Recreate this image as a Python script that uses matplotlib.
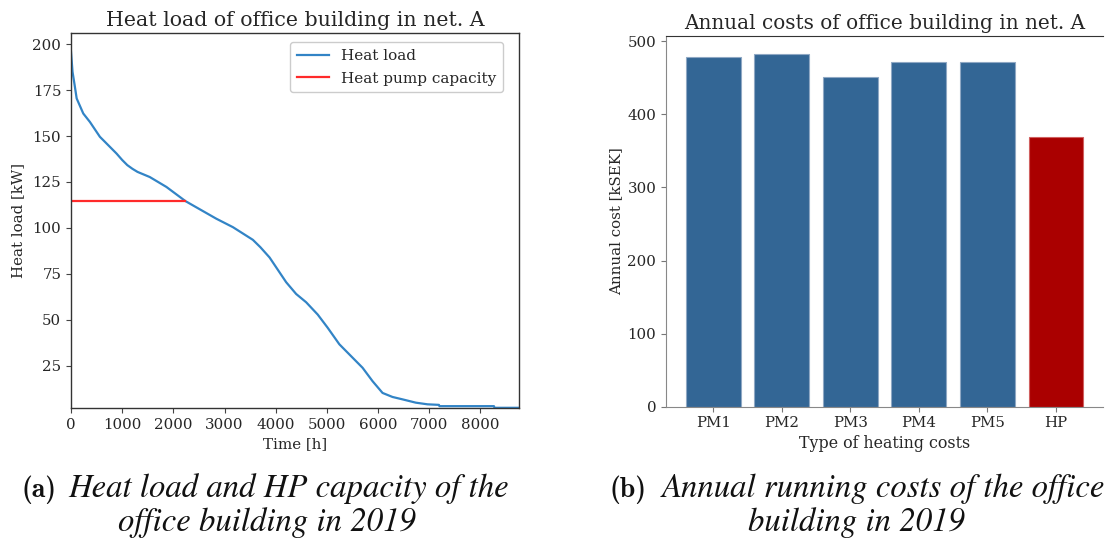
import matplotlib
matplotlib.use("Agg")
import matplotlib.pyplot as plt

# ---- data ----
hours = [0, 30, 70, 111, 240, 370, 565, 630, 890, 1000, 1100, 1200, 1300, 1540, 1865, 2236,
         2840, 3164, 3554, 3700, 3880, 4205, 4400, 4595, 4821, 5016, 5244, 5439, 5698,
         5893, 6088, 6283, 6478, 6738, 6965, 7190, 7200, 8265, 8275, 8760]
heat_load = [196, 185, 178, 170.5, 162.3, 157.7, 149.6, 147.8, 140.5, 137.0, 134.2, 132.2,
             130.5, 127.7, 122.3, 114.6, 105.0, 100.4, 93.5, 89.5, 83.9, 70.4, 64.0, 59.5,
             52.8, 45.6, 36.6, 31.1, 23.8, 16.5, 10.1, 7.9, 6.6, 4.8, 3.9, 3.6, 2.9, 2.9,
             2.0, 2.0]
hp_capacity = 114.6
hp_hours = [0, 2236]

cost_labels = ["PM1", "PM2", "PM3", "PM4", "PM5", "HP"]
cost_values = [478, 483, 450.5, 472, 472, 368.5]
cost_colors = ["#336695", "#336695", "#336695", "#336695", "#336695", "#aa0000"]

plt.rcParams["font.family"] = ["DejaVu Serif"]
txt = "#262626"

fig = plt.figure(figsize=(11.11, 5.45), dpi=100)

# ---- left: heat load ----
ax1 = fig.add_axes([0.0639, 0.2514, 0.4035, 0.6875])
ax1.plot(hours, heat_load, color="#3284c6", lw=1.6, label="Heat load")
ax1.plot(hp_hours, [hp_capacity, hp_capacity], color="#ff2a2a", lw=1.6,
         label="Heat pump capacity")
ax1.set_xlim(0, 8760)
ax1.set_ylim(1.9, 206)
ax1.set_xticks(range(0, 9000, 1000))
ax1.set_yticks(range(25, 201, 25))
ax1.set_title("Heat load of office building in net. A", fontsize=14.8, color=txt, pad=5)
ax1.set_xlabel("Time [h]", fontsize=10.8, color=txt, labelpad=4)
ax1.set_ylabel("Heat load [kW]", fontsize=10.8, color=txt, labelpad=5)
ax1.tick_params(labelsize=10.8, colors="#444444", labelcolor=txt)
for s in ax1.spines.values():
    s.set_color("#333333")
    s.set_linewidth(1.0)
ax1.legend(loc="upper right", bbox_to_anchor=(1 - 16 / 448, 1 - 9 / 375),
           borderaxespad=0, fontsize=11.0, frameon=True, framealpha=1,
           edgecolor="#cccccc", fancybox=True, borderpad=0.45, handlelength=2.1,
           labelspacing=0.55, labelcolor=txt)

# ---- right: annual costs ----
ax2 = fig.add_axes([0.5995, 0.2538, 0.3935, 0.680])
ax2.bar(cost_labels, cost_values, width=0.8, color=cost_colors,
        edgecolor=["#8fa8c4"] * 5 + ["#d06060"], linewidth=0.8)
ax2.set_yticks([0, 100, 200, 300, 400, 500])
ax2.set_title("Annual costs of office building in net. A", fontsize=14.4, color=txt, pad=5)
ax2.set_xlabel("Type of heating costs", fontsize=11.4, color=txt, labelpad=3)
ax2.set_ylabel("Annual cost [kSEK]", fontsize=10.8, color=txt, labelpad=3)
ax2.tick_params(labelsize=10.8, colors="#777777", labelcolor=txt)
ax2.spines["left"].set_color("#888888")
ax2.spines["bottom"].set_color("#888888")
ax2.spines["top"].set_color("#333333")
ax2.spines["right"].set_visible(False)

# ---- captions ----
cap_it = dict(family="STIXGeneral", style="italic", fontsize=23.6, color="#111111",
              va="baseline")
cap_bf = dict(family="cmb10", fontsize=20, color="#111111", va="baseline", ha="left")
y1 = 1 - 497 / 545
y2 = 1 - 531 / 545
fig.text(21.7 / 1111, y1, "(a)", **cap_bf)
fig.text(68.3 / 1111, y1, "Heat load and HP capacity of the", ha="left", **cap_it)
fig.text(266.5 / 1111, y2, "office building in 2019", ha="center", **cap_it)
fig.text(610 / 1111, y1, "(b)", **cap_bf)
fig.text(661.7 / 1111, y1, "Annual running costs of the office", ha="left", **cap_it)
fig.text(856.5 / 1111, y2, "building in 2019", ha="center", **cap_it)

fig.savefig("out.png", dpi=100)
